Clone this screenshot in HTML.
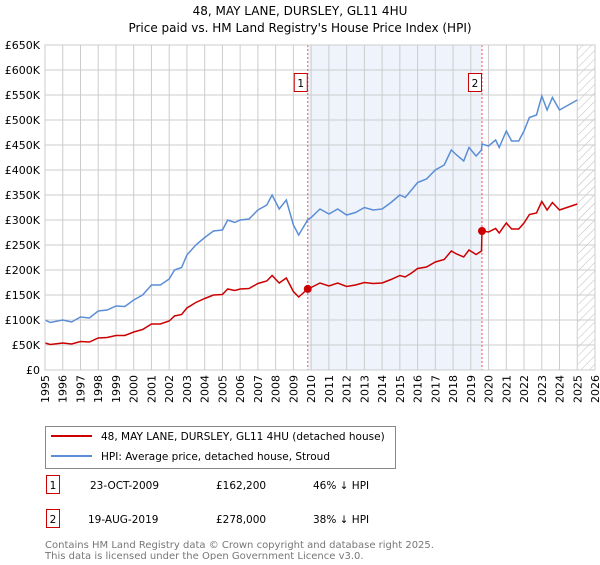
<!DOCTYPE html>
<html><head><meta charset="utf-8"><style>
body{margin:0;width:600px;height:560px;background:#fff;font-family:"Liberation Sans","DejaVu Sans",sans-serif;overflow:hidden}
svg text{font-family:"DejaVu Sans","Liberation Sans",sans-serif}
</style></head><body>
<svg id="c" width="600" height="560">
<text x="300" y="15" text-anchor="middle" font-size="12">48, MAY LANE, DURSLEY, GL11 4HU</text>
<text x="300" y="32" text-anchor="middle" font-size="12">Price paid vs. HM Land Registry's House Price Index (HPI)</text>
<g id="plot"></g>
<g>
<rect x="45.5" y="426.5" width="350" height="42" fill="#fff" stroke="#888"/>
<line x1="51" y1="436" x2="92" y2="436" stroke="#cc0000" stroke-width="2"/>
<text x="101" y="440" font-size="10.5">48, MAY LANE, DURSLEY, GL11 4HU (detached house)</text>
<line x1="51" y1="456" x2="92" y2="456" stroke="#5b8ed6" stroke-width="2"/>
<text x="101" y="460" font-size="10.5">HPI: Average price, detached house, Stroud</text>
</g>
<g font-size="10.5">
<rect x="46.5" y="475.5" width="13" height="18" fill="#fff" stroke="#cc0000"/>
<text x="53" y="489" text-anchor="middle">1</text>
<text x="90" y="489">23-OCT-2009</text><text x="216" y="489">£162,200</text><text x="313" y="489">46% ↓ HPI</text>
<rect x="46.5" y="509.5" width="13" height="18" fill="#fff" stroke="#cc0000"/>
<text x="53" y="523" text-anchor="middle">2</text>
<text x="88" y="523">19-AUG-2019</text><text x="216" y="523">£278,000</text><text x="313" y="523">38% ↓ HPI</text>
</g>
<text x="45" y="548" font-size="10" fill="#777">Contains HM Land Registry data © Crown copyright and database right 2025.</text>
<text x="45" y="559" font-size="10" fill="#777">This data is licensed under the Open Government Licence v3.0.</text>
</svg>
<script>
const dates=[1995.0,1995.3,1996.0,1996.5,1997.0,1997.5,1998.0,1998.5,1999.0,1999.5,2000.0,2000.5,2001.0,2001.5,2002.0,2002.3,2002.7,2003.0,2003.5,2004.0,2004.5,2005.0,2005.3,2005.7,2006.0,2006.5,2007.0,2007.5,2007.8,2008.2,2008.6,2009.0,2009.3,2009.8,2010.0,2010.5,2011.0,2011.5,2012.0,2012.5,2013.0,2013.5,2014.0,2014.5,2015.0,2015.3,2015.7,2016.0,2016.5,2017.0,2017.5,2017.9,2018.2,2018.6,2018.9,2019.3,2019.6,2019.63,2020.0,2020.4,2020.6,2021.0,2021.3,2021.7,2022.0,2022.3,2022.7,2023.0,2023.3,2023.6,2024.0,2024.5,2025.0];
const hpi=[100,95,100,96,106,104,118,120,128,127,140,150,170,170,182,200,205,230,250,265,278,280,300,295,300,302,320,330,350,322,340,290,270,300,305,322,312,322,310,315,325,320,322,335,350,345,362,375,382,400,410,440,430,418,445,428,440,452,448,460,445,478,458,458,478,505,510,548,520,545,520,530,540];
const price=[54,51,54,52,57,56,64,65,69,69,76,81,92,92,98,108,111,124,135,143,150,151,162,159,162,163,173,178,189,174,184,157,146,162,165,174,168,174,167,170,175,173,174,181,189,186,195,203,206,216,221,238,232,226,240,231,238,278,276,283,274,294,282,282,294,311,314,337,320,335,320,326,332];
const sales=[[2009.81,162.2,"1"],[2019.63,278,"2"]];
const yTicks=[0,50,100,150,200,250,300,350,400,450,500,550,600,650];
const xYears=[1995,1996,1997,1998,1999,2000,2001,2002,2003,2004,2005,2006,2007,2008,2009,2010,2011,2012,2013,2014,2015,2016,2017,2018,2019,2020,2021,2022,2023,2024,2025,2026];
const X=y=>45+(y-1995)*(550/31), Y=v=>370-v*(325/650);
const g=document.getElementById('plot');const NS='http://www.w3.org/2000/svg';
function mk(t,a,p){const e=document.createElementNS(NS,t);for(const k in a)e.setAttribute(k,a[k]);(p||g).appendChild(e);return e;}
let e;
e=mk('rect',{x:X(2009.81),y:45,width:X(2019.63)-X(2009.81),height:325,fill:'#eef3fc'});


const defs=mk('defs',{});const pat=mk('pattern',{id:'h',width:6,height:6,patternUnits:'userSpaceOnUse',patternTransform:'rotate(45)'},defs);mk('line',{x1:0,y1:0,x2:0,y2:6,stroke:'#bbb','stroke-width':1},pat);
e=mk('rect',{x:X(2025.05),y:45,width:X(2026)-X(2025.05),height:325,fill:'url(#h)'});


yTicks.forEach(v=>{
 mk('line',{x1:45,x2:595,y1:Y(v),y2:Y(v),stroke:'#ccc','stroke-width':1});
 e=mk('text',{x:40,y:Y(v)+4,'text-anchor':'end','font-size':11});e.textContent=v===0?'£0':'£'+v+'K';
 
 
});
xYears.forEach(y=>{
 mk('line',{x1:X(y),x2:X(y),y1:45,y2:370,stroke:'#ccc','stroke-width':1});
 e=mk('text',{transform:`translate(${X(y)+4},375) rotate(-90)`,'text-anchor':'end','font-size':11});e.textContent=y;
 
 
});
sales.forEach(s=>{mk('line',{x1:X(s[0]),x2:X(s[0]),y1:45,y2:370,stroke:'#e55','stroke-width':1,'stroke-dasharray':'2,2'});});
e=mk('path',{d:dates.map((d,i)=>(i?'L':'M')+X(d).toFixed(1)+','+Y(hpi[i]).toFixed(1)).join(''),fill:'none',stroke:'#5b8ed6','stroke-width':1.5});


e=mk('path',{d:dates.map((d,i)=>(i?'L':'M')+X(d).toFixed(1)+','+Y(price[i]).toFixed(1)).join(''),fill:'none',stroke:'#cc0000','stroke-width':1.5});


sales.forEach(s=>{
 e=mk('circle',{cx:X(s[0]),cy:Y(s[1]),r:4,fill:'#cc0000'});
 
 
 e=mk('rect',{x:X(s[0])-13.5,y:73.5,width:13,height:18,fill:'#fff',stroke:'#cc0000'});
 
 
 e=mk('text',{x:X(s[0])-7,y:87,'text-anchor':'middle','font-size':10.5});e.textContent=s[2];
});
mk('rect',{x:45,y:45,width:550,height:325,fill:'none',stroke:'#ccc'});
</script>
</body></html>
